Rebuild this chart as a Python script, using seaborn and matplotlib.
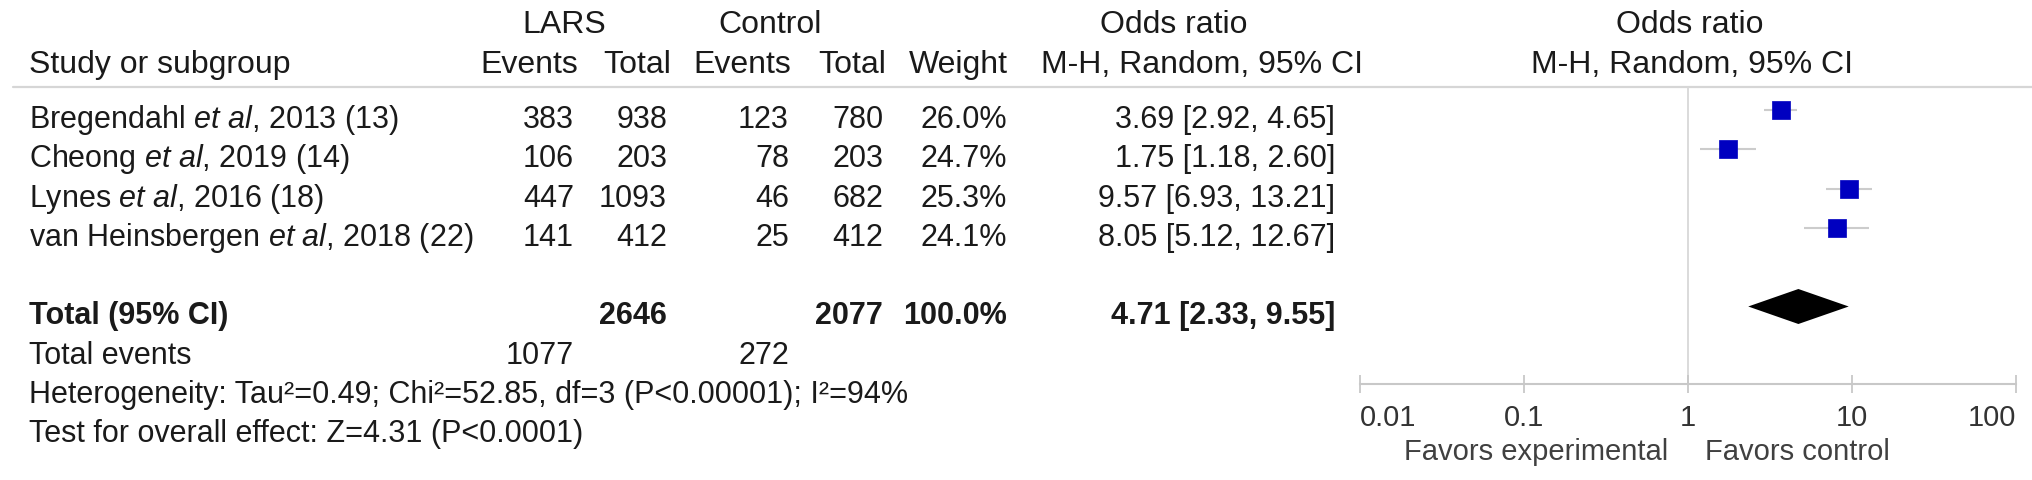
import numpy as np
import pandas as pd
import seaborn as sns
import matplotlib.pyplot as plt

# study data
studies = ["Bregendahl", "Cheong", "Lynes", "van Heinsbergen"]
years = [2013, 2019, 2016, 2018]
refs = [13, 14, 18, 22]
lars_events = [383, 106, 447, 141]
lars_total = [938, 203, 1093, 412]
ctrl_events = [123, 78, 46, 25]
ctrl_total = [780, 203, 682, 412]
weights = [26.0, 24.7, 25.3, 24.1]
or_est = [3.69, 1.75, 9.57, 8.05]
or_lo = [2.92, 1.18, 6.93, 5.12]
or_hi = [4.65, 2.60, 13.21, 12.67]

# pooled
pooled = [4.71, 2.33, 9.55]
total_weight = 100.0
heterogeneity = "Heterogeneity: Tau²=0.49; Chi²=52.85, df=3 (P<0.00001); I²=94%"
overall = "Test for overall effect: Z=4.31 (P<0.0001)"
ticks = [0.01, 0.1, 1, 10, 100]
tick_labels = ["0.01", "0.1", "1", "10", "100"]

sns.set_theme(style="white")
plt.rcParams["font.family"] = ["Liberation Sans", "DejaVu Sans"]
plt.rcParams["mathtext.fontset"] = "custom"
plt.rcParams["mathtext.rm"] = "Liberation Sans"
plt.rcParams["mathtext.it"] = "Liberation Sans:italic"

W, H = 2032, 481
fig = plt.figure(figsize=(W / 100, H / 100), dpi=100)

# background axes in pixel units for the table part
tab = fig.add_axes([0, 0, 1, 1])
tab.set_xlim(0, W)
tab.set_ylim(H, 0)
tab.axis("off")

fh = 23      # header
fs = 22      # body
txt = "#1a1a1a"
row0, step = 111, 39.3
def row_y(k):
    return row0 + step * k
base = 17  # baseline offset from marker centre

# header
tab.text(564, 25, "LARS", ha="center", va="center", fontsize=fh, color=txt)
tab.text(770, 25, "Control", ha="center", va="center", fontsize=fh, color=txt)
tab.text(1174, 25, "Odds ratio", ha="center", va="center", fontsize=fh, color=txt)
tab.text(1690, 25, "Odds ratio", ha="center", va="center", fontsize=fh, color=txt)
hy = 65
tab.text(29, hy, "Study or subgroup", ha="left", va="center", fontsize=fh, color=txt)
for x, s in [(578, "Events"), (671, "Total"), (791, "Events"), (886, "Total"), (1008, "Weight")]:
    tab.text(x, hy, s, ha="right", va="center", fontsize=fh, color=txt)
tab.text(1202, hy, "M-H, Random, 95% CI", ha="center", va="center", fontsize=fh, color=txt)
tab.text(1692, hy, "M-H, Random, 95% CI", ha="center", va="center", fontsize=fh, color=txt)
tab.plot([13, W], [88, 88], color="#d6d6d6", lw=1.6)

cols = [574, 667, 789, 883, 1007, 1335]
for k in range(len(studies)):
    y = row_y(k) + base
    label = studies[k] + r" $\mathit{et\ al}$" + ", %d (%d)" % (years[k], refs[k])
    tab.text(29, y, label, ha="left", va="baseline", fontsize=fs, color=txt)
    vals = [str(lars_events[k]), str(lars_total[k]), str(ctrl_events[k]),
            str(ctrl_total[k]), "%.1f%%" % weights[k],
            "%.2f [%.2f, %.2f]" % (or_est[k], or_lo[k], or_hi[k])]
    for x, v in zip(cols, vals):
        tab.text(x, y, v, ha="right", va="baseline", fontsize=fs, color=txt)

# totals
y = row_y(5) + base
tab.text(29, y, "Total (95% CI)", ha="left", va="baseline", fontsize=fs, color=txt, fontweight="bold")
tvals = [(cols[1], str(sum(lars_total))), (cols[3], str(sum(ctrl_total))),
         (cols[4], "%.1f%%" % total_weight),
         (cols[5], "%.2f [%.2f, %.2f]" % tuple(pooled))]
for x, v in tvals:
    tab.text(x, y, v, ha="right", va="baseline", fontsize=fs, color=txt, fontweight="bold")
y = row_y(6) + base
tab.text(29, y, "Total events", ha="left", va="baseline", fontsize=fs, color=txt)
tab.text(cols[0], y, str(sum(lars_events)), ha="right", va="baseline", fontsize=fs, color=txt)
tab.text(cols[2], y, str(sum(ctrl_events)), ha="right", va="baseline", fontsize=fs, color=txt)
tab.text(29, row_y(7) + base, heterogeneity, ha="left", va="baseline", fontsize=fs, color=txt)
tab.text(29, row_y(8) + base, overall, ha="left", va="baseline", fontsize=fs, color=txt)

# forest plot axes
x0, x1, ytop, ybot = 1360, 2016, 88, 385
fa = fig.add_axes([x0 / W, 1 - ybot / H, (x1 - x0) / W, (ybot - ytop) / H])
fa.patch.set_alpha(0)
fa.set_xscale("log")
fa.set_xlim(0.01, 100)
fa.set_ylim(ybot, ytop)

df = pd.DataFrame({"est": or_est, "lo": or_lo, "hi": or_hi,
                   "y": [row_y(k) for k in range(len(studies))]})
fa.axvline(1, color="#d8d8d8", lw=1.3, zorder=0)
fa.hlines(df["y"], df["lo"], df["hi"], color="#cccccc", lw=1.5, zorder=1)
sns.scatterplot(data=df, x="est", y="y", ax=fa, marker="s", s=170,
                color="#0000c0", edgecolor="#0000c0", linewidth=0.5,
                legend=False, zorder=3)

# pooled diamond
est, lo, hi = pooled
yd, hd = row_y(5), 17.5
fa.fill([lo, est, hi, est], [yd, yd - hd, yd, yd + hd], color="black", lw=0, zorder=3)

for side in ["top", "left", "right"]:
    fa.spines[side].set_visible(False)
fa.spines["bottom"].set_color("#c8c8c8")
fa.spines["bottom"].set_linewidth(1.5)
fa.set_xticks(ticks)
fa.set_xticklabels(tick_labels)
fa.minorticks_off()
fa.tick_params(axis="x", direction="inout", length=13, width=1.3, color="#c8c8c8",
               labelsize=21, labelcolor="#333333", pad=7, bottom=True)
lbls = fa.get_xticklabels()
lbls[0].set_horizontalalignment("left")
lbls[-1].set_horizontalalignment("right")
fa.set_yticks([])
fa.set_xlabel("")
fa.set_ylabel("")

tab.text(1668, 452, "Favors experimental", ha="right", va="center", fontsize=21, color="#404040")
tab.text(1705, 452, "Favors control", ha="left", va="center", fontsize=21, color="#404040")

fig.savefig("out.png", dpi=100)
